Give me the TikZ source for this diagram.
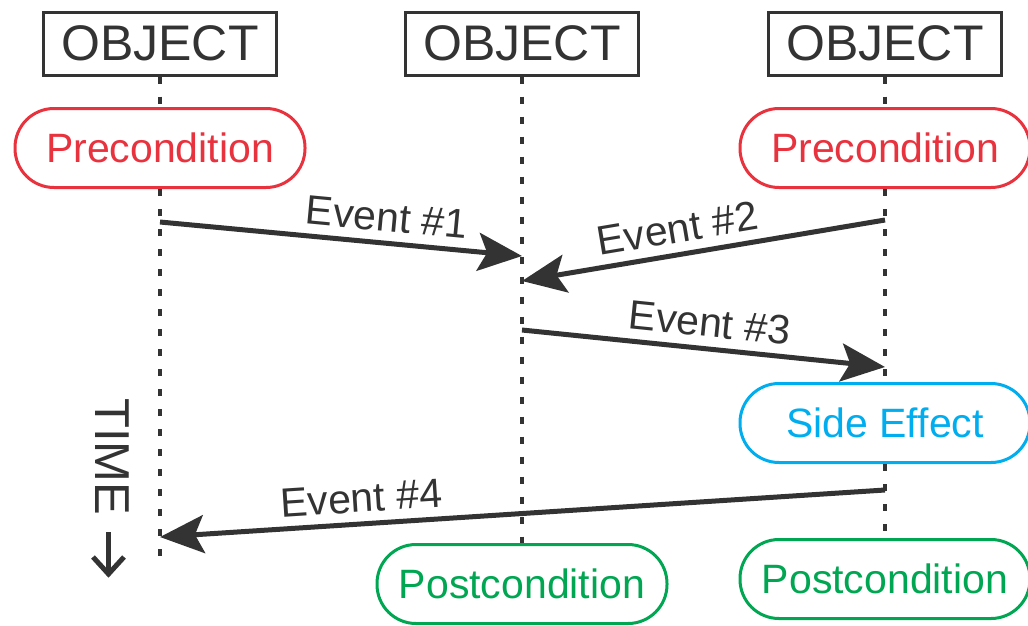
\documentclass[tikz,border=0pt]{standalone}
\usepackage{fontspec}
\setmainfont{Liberation Sans}
\usetikzlibrary{arrows.meta}
\definecolor{ink}{HTML}{333333}
\definecolor{prered}{HTML}{E8333F}
\definecolor{sideblue}{HTML}{00AEEF}
\definecolor{postgreen}{HTML}{00A651}
\tikzset{
  objbox/.style={draw=ink, line width=3pt, fill=white, text=ink,
    minimum width=233pt, minimum height=63pt, inner sep=0pt,
    font=\fontsize{50}{60}\selectfont},
  pill/.style={line width=3pt, fill=white, rounded corners=39pt,
    minimum width=290pt, minimum height=79pt, inner sep=0pt,
    font=\fontsize{41}{49}\selectfont},
  pre/.style={pill, draw=prered, text=prered},
  side/.style={pill, draw=sideblue, text=sideblue},
  post/.style={pill, draw=postgreen, text=postgreen},
  lifeline/.style={draw=ink, line width=3.6pt, dash pattern=on 7pt off 13pt},
  msg/.style={draw=ink, line width=5pt,
    -{Stealth[length=44pt, width=38pt, inset=9pt]}},
  msglabel/.style={sloped, above=9pt, inner sep=0pt, text=ink,
    font=\fontsize{41}{49}\selectfont},
}
\begin{document}
\begin{tikzpicture}[x=1pt, y=-1pt]
\useasboundingbox (0,0) rectangle (1028,625);

% object heads
\node[objbox] (o1) at (160,43.5) {OBJECT};
\node[objbox] (o2) at (522,43.5) {OBJECT};
\node[objbox] (o3) at (885,43.5) {OBJECT};

% conditions and effects on the lifelines
\node[pre]  (pre1)  at (160,148) {Precondition};
\node[pre]  (pre3)  at (885,148) {Precondition};
\node[side] (side3) at (885,423) {Side Effect};
\node[post] (post2) at (522,584) {Postcondition};
\node[post] (post3) at (885,579) {Postcondition};

\coordinate (end1) at (160,565);

% lifelines
\draw[lifeline] (o1.south) -- (pre1.north);
\draw[lifeline] (pre1.south) -- (end1);
\draw[lifeline] (o2.south) -- (post2.north);
\draw[lifeline] (o3.south) -- (pre3.north);
\draw[lifeline] (pre3.south) -- (side3.north);
\draw[lifeline] (side3.south) -- (post3.north);

% message end points
\coordinate (m1a) at (160,222);
\coordinate (m1b) at (522,256);
\coordinate (m2a) at (885,220);
\coordinate (m2b) at (522,281);
\coordinate (m3a) at (522,330);
\coordinate (m3b) at (885,367);
\coordinate (m4a) at (885,490);
\coordinate (m4b) at (160,537);

% messages
\draw[msg] (m1a) -- node[msglabel, pos=0.62] {Event \#1} (m1b);
\draw[msg] (m2a) -- node[msglabel, pos=0.56] {Event \#2} (m2b);
\draw[msg] (m3a) -- node[msglabel, pos=0.51] {Event \#3} (m3b);
\draw[msg] (m4a) -- node[msglabel, pos=0.72] {Event \#4} (m4b);

% time axis
\node[rotate=-90, anchor=base west, inner sep=0pt, text=ink,
  font=\fontsize{49}{59}\selectfont] (time) at (95,398) {TIME};
\coordinate (t0) at (108.5,532);
\coordinate (t1) at (108.5,574);
\draw[draw=ink, line width=5pt] (t0) -- (t1);
\draw[draw=ink, line width=5pt, miter limit=10] (93,557) -- (t1) -- (124,557);
\end{tikzpicture}
\end{document}
